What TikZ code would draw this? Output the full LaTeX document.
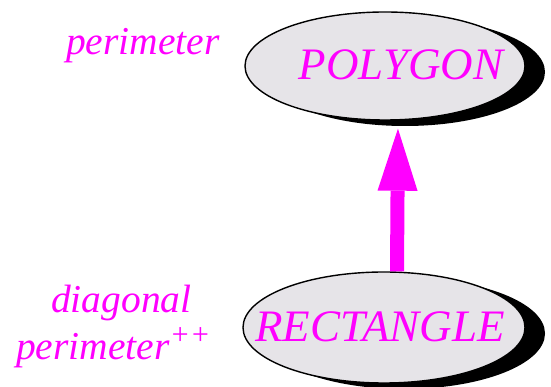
\documentclass[tikz,border=0pt]{standalone}
\usepackage{fontspec}
\setmainfont{Liberation Serif}
\usepackage{tikz}
\usetikzlibrary{arrows.meta, positioning, shapes.geometric, shadows}
\definecolor{classfill}{RGB}{230,228,232}
\definecolor{featpink}{RGB}{255,0,255}

\begin{document}
\begin{tikzpicture}[x=1pt, y=1pt,
  classnode/.style={ellipse, draw=black, line width=1.4pt, fill=classfill, inner sep=0pt,
    drop shadow={shadow xshift=20pt, shadow yshift=-6pt, opacity=1, fill=black}},
  classname/.style={anchor=base, text=featpink, inner sep=0pt,
    font=\fontsize{45}{54}\selectfont\itshape},
  featname/.style={anchor=base west, text=featpink, inner sep=0pt,
    font=\fontsize{39.5}{46}\selectfont\itshape}]

\useasboundingbox (0,0) rectangle (551,387);

% Classes
\node[classnode, minimum width=280pt, minimum height=108pt] (poly) at (385,321) {};
\node[classnode, minimum width=282pt, minimum height=111pt] (rect) at (384,59.5) {};
\node[classname] (polyname) at ([xshift=16pt, yshift=-14pt]poly.center) {POLYGON};
\node[classname] (rectname) at ([xshift=-4pt, yshift=-14.5pt]rect.center) {RECTANGLE};

% Features
\node[featname] (polyperim) at (66,332) {perimeter};
\node[featname] (rectdiag) at (51,74) {diagonal};
\node[featname] (rectperim) at (16,27) {perimeter\raisebox{0.4em}{\fontsize{30}{36}\selectfont ++}};

% Inheritance
\draw[featpink, line width=14pt, -{Triangle[length=62pt, width=40pt, line width=0pt]}, shorten >=8pt]
  ([xshift=13pt]rect.north) -- ([xshift=13pt]poly.south);

\end{tikzpicture}
\end{document}
